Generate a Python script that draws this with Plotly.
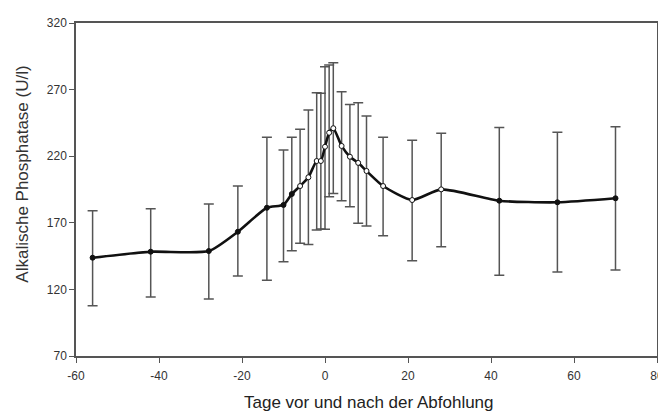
import plotly.graph_objects as go

days = [-56, -42, -28, -21, -14, -10, -8, -6, -4, -2, -1, 0, 1, 2, 4, 6, 8, 10, 14, 21, 28, 42, 56, 70]
mean = [143.8, 148.3, 148.8, 163.3, 181.3, 183.4, 191.6, 197.6, 204.2, 216.4, 216.4, 227.1, 237.6, 241.0,
        227.7, 219.6, 215.0, 208.9, 197.6, 187.1, 195.1, 186.6, 185.4, 188.4]
upper = [179.1, 180.6, 184.1, 197.6, 234.2, 224.7, 234.2, 240.2, 254.7, 267.7, 267.2, 287.2, 288.5, 290.2,
         268.4, 258.8, 260.2, 250.2, 234.2, 232.0, 237.2, 241.6, 237.9, 242.1]
lower = [107.8, 114.3, 112.8, 130.0, 126.8, 140.8, 149.0, 154.6, 153.8, 164.6, 165.3, 165.1, 189.6, 192.0,
         186.6, 182.1, 169.6, 167.6, 160.3, 141.5, 152.1, 130.6, 133.1, 134.6]
open_marker = [False, False, False, False, False, False, False, True, True, True, True, True, True, True,
               True, True, True, True, True, True, True, False, False, False]

x_ticks = [-60, -40, -20, 0, 20, 40, 60, 80]
y_ticks = [70, 120, 170, 220, 270, 320]
x_title = "Tage vor und nach der Abfohlung"
y_title = "Alkalische Phosphatase (U/l)"

err_plus = [u - m for u, m in zip(upper, mean)]
err_minus = [m - l for m, l in zip(mean, lower)]

FONT = "Liberation Sans, Arial, sans-serif"

fig = go.Figure()
fig.add_trace(go.Scatter(
    x=days, y=mean, mode="lines",
    line=dict(color="#111111", width=2.6, shape="spline", smoothing=0.6),
    error_y=dict(type="data", symmetric=False, array=err_plus, arrayminus=err_minus,
                 color="#555555", thickness=1.5, width=5),
    hoverinfo="skip", showlegend=False,
))
fig.add_trace(go.Scatter(
    x=days, y=mean, mode="markers",
    marker=dict(size=5,
                color=["white" if o else "#111111" for o in open_marker],
                line=dict(color="#111111", width=1)),
    showlegend=False,
))

axis_common = dict(showline=True, linecolor="#555555", linewidth=1.5, mirror=True, automargin=False,
                   ticks="outside", ticklen=5, tickcolor="#555555", showgrid=False, zeroline=False,
                   tickfont=dict(family=FONT, size=12, color="#333333"))

fig.update_xaxes(range=[-60, 80], tickvals=x_ticks, ticktext=[str(v) for v in x_ticks],
                 ticklabelstandoff=3, ticklabeloverflow="allow", **axis_common)
fig.update_yaxes(range=[70, 320], tickvals=y_ticks, ticktext=[str(v) for v in y_ticks],
                 **axis_common)

# plot area: 581 x 333 px
fig.add_annotation(text=x_title, xref="paper", yref="paper", x=0.5038, y=-0.1402,
                   xanchor="center", yanchor="middle", showarrow=False,
                   font=dict(family=FONT, size=17, color="#222222"))
fig.add_annotation(text=y_title, xref="paper", yref="paper", x=-0.0935, y=0.5465,
                   xanchor="center", yanchor="middle", showarrow=False, textangle=-90,
                   font=dict(family=FONT, size=17, color="#333333"))

fig.update_layout(width=658, height=406, margin=dict(l=68, r=9, t=15, b=58),
                  plot_bgcolor="white", paper_bgcolor="white")

fig.write_html("out.html")
